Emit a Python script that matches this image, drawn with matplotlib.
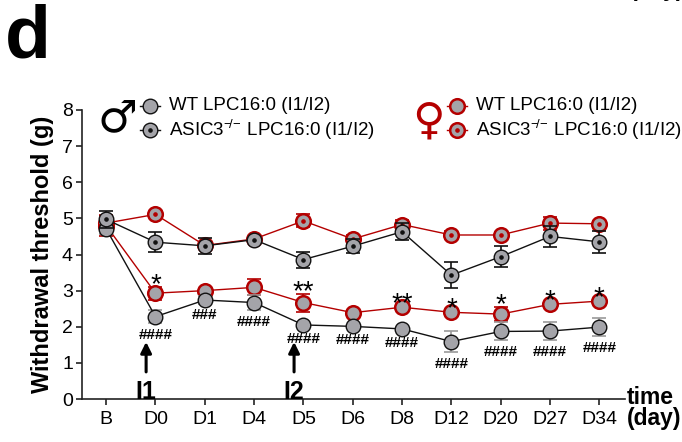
import matplotlib
matplotlib.use('Agg')
import matplotlib.pyplot as plt
import numpy as np

# ---------------- data ----------------
categories = ['B', 'D0', 'D1', 'D4', 'D5', 'D6', 'D8', 'D12', 'D20', 'D27', 'D34']

male_wt = [4.71, 2.28, 2.74, 2.67, 2.05, 2.01, 1.94, 1.59, 1.87, 1.88, 1.99]
male_wt_err = [0.15, 0.18, 0.10, 0.20, 0.05, 0.05, 0.05, 0.30, 0.25, 0.24, 0.24]

male_ko = [4.97, 4.34, 4.24, 4.41, 3.86, 4.23, 4.63, 3.43, 3.94, 4.50, 4.35]
male_ko_err = [0.24, 0.28, 0.22, 0.05, 0.22, 0.20, 0.23, 0.35, 0.29, 0.30, 0.30]

female_wt = [4.80, 2.93, 3.00, 3.09, 2.67, 2.39, 2.54, 2.40, 2.35, 2.62, 2.71]
female_wt_err = [0.30, 0.18, 0.05, 0.22, 0.25, 0.05, 0.05, 0.05, 0.20, 0.05, 0.05]

female_ko = [4.87, 5.11, 4.25, 4.43, 4.93, 4.43, 4.83, 4.54, 4.54, 4.87, 4.85]
female_ko_err = [0.20, 0.06, 0.10, 0.05, 0.18, 0.10, 0.12, 0.12, 0.08, 0.18, 0.08]

stars = ['', '*', '', '', '**', '', '**', '*', '*', '*', '*']
hashes = ['', '####', '###', '####', '####', '####', '####', '####', '####', '####', '####']

injection_days = ['D0', 'D5']
injection_labels = ['I1', 'I2']

legend_labels = ['WT LPC16:0 (I1/I2)', 'ASIC3$^{-\\!/\\!-}\\,$LPC16:0 (I1/I2)']

# ---------------- style ----------------
FONT = ['Liberation Sans Narrow', 'Liberation Sans', 'DejaVu Sans']
plt.rcParams['font.family'] = FONT
plt.rcParams['mathtext.fontset'] = 'custom'
plt.rcParams['mathtext.rm'] = 'Liberation Sans'
plt.rcParams['mathtext.default'] = 'regular'

GRAY = '#a4a4a9'
RED = '#b40000'
BLACK = '#111111'

fig = plt.figure(figsize=(6.82, 4.42), dpi=100)
W, H = 682, 442
ax = fig.add_axes([82 / W, 1 - 399 / H, 543 / W, 289 / H])

x = np.arange(len(categories))

series = [
    # values, err, edge colour, errorbar colour, dot colour, edge width
    (female_wt, female_wt_err, RED, RED, None, 1.8),
    (female_ko, female_ko_err, RED, RED, RED, 1.8),
    (male_wt, male_wt_err, BLACK, '#9a9a9a', None, 1.0),
    (male_ko, male_ko_err, BLACK, BLACK, BLACK, 1.0),
]

z = 2
for vals, err, ec, ebc, dotc, mew in series:
    ax.errorbar(x, vals, yerr=err, fmt='none', ecolor=ebc, elinewidth=1.2,
                capsize=5, capthick=1.2, zorder=z)
    ax.plot(x, vals, '-', color=ec, lw=1.0, marker='o', ms=10.5, mfc=GRAY,
            mec=ec, mew=mew, zorder=z + 0.1)
    if dotc is not None:
        ax.plot(x, vals, ls='none', marker='o', ms=2.3, color=dotc, zorder=z + 0.2)
    z += 1

# significance annotations
for xi, (s, v, e) in enumerate(zip(stars, female_wt, female_wt_err)):
    if s:
        ax.annotate(s, (xi, v + e), xytext=(0, -4), textcoords='offset points',
                    ha='center', va='baseline', fontsize=20, zorder=10)
for xi, (s, v, e) in enumerate(zip(hashes, male_wt, male_wt_err)):
    if s:
        ax.annotate(s, (xi, v - e), xytext=(0, -8.5), textcoords='offset points',
                    ha='center', va='center', fontsize=11, fontweight='bold',
                    zorder=10)

# injection arrows
for day, lab in zip(injection_days, injection_labels):
    xi = categories.index(day) - 0.19
    ax.annotate('', xy=(xi, 1.58), xytext=(xi, 0.75),
                arrowprops=dict(arrowstyle='-|>', lw=2.2, color='black',
                                mutation_scale=16, shrinkA=0, shrinkB=0))
    ax.text(xi, 0.0, lab, ha='center', va='baseline', fontsize=18,
            fontweight='bold')

# axes
ax.set_xlim(-0.49, 10.52)
ax.set_ylim(0, 8)
ax.set_xticks(x)
ax.set_xticklabels(categories)
ax.set_yticks(range(0, 9))
for sp in ['top', 'right']:
    ax.spines[sp].set_visible(False)
for sp in ['left', 'bottom']:
    ax.spines[sp].set_color('#222222')
    ax.spines[sp].set_linewidth(1.2)
ax.tick_params(axis='both', length=4.5, width=1.2, color='#222222',
               labelsize=14, pad=2)
ax.tick_params(axis='x', pad=4)

fig.text(43 / W, 1 - 254 / H, 'Withdrawal threshold (g)', rotation=90,
         ha='center', va='center', fontsize=17, fontweight='bold')
fig.text(627 / W, 1 - 398 / H, 'time', ha='left', va='center',
         fontsize=16.5, fontweight='bold')
fig.text(627 / W, 1 - 419 / H, '(day)', ha='left', va='center',
         fontsize=16.5, fontweight='bold')

# panel letter and cut-off text from the panel above
fig.text(5 / W, 1 - 57 / H, 'd', ha='left', va='baseline', fontsize=54,
         fontweight='bold')
fig.text(630 / W, 1 + 4 / H, '(day)', ha='left', va='baseline', fontsize=16.5,
         fontweight='bold')

# legends (drawn in axes coordinates)
def axes_pt(px, py):
    return ((px - 82) / 543, (399 - py) / 289)

def legend_block(hx, tx, y_rows, ec, dotc, mew, sym, sym_xy, sym_col):
    for i, (yy, lab) in enumerate(zip(y_rows, legend_labels)):
        x0, y0 = axes_pt(hx - 10, yy)
        x1, _ = axes_pt(hx + 10, yy)
        xc, _ = axes_pt(hx, yy)
        ax.plot([x0, x1], [y0, y0], color=ec, lw=1.0, transform=ax.transAxes,
                clip_on=False, zorder=20)
        ax.plot([xc], [y0], marker='o', ms=10.5, mfc=GRAY, mec=ec, mew=mew,
                transform=ax.transAxes, clip_on=False, zorder=21, ls='none')
        if i == 1:
            ax.plot([xc], [y0], marker='o', ms=2.3, color=dotc,
                    transform=ax.transAxes, clip_on=False, zorder=22, ls='none')
        tx_, ty_ = axes_pt(tx, yy)
        ax.text(tx_, ty_, lab, transform=ax.transAxes, ha='left', va='center',
                fontsize=13.5, zorder=22)
    sx, sy = axes_pt(*sym_xy)
    ax.text(sx, sy, sym, transform=ax.transAxes, ha='center', va='center',
            fontsize=32, fontweight='bold', color=sym_col,
            family=['DejaVu Sans'], zorder=22)

legend_block(150, 169, [106, 130], BLACK, BLACK, 1.0, '\u2642', (117, 119), 'black')
legend_block(457, 476, [106, 130], RED, RED, 1.8, '\u2640', (428, 121), RED)

fig.savefig('out.png', dpi=100)
